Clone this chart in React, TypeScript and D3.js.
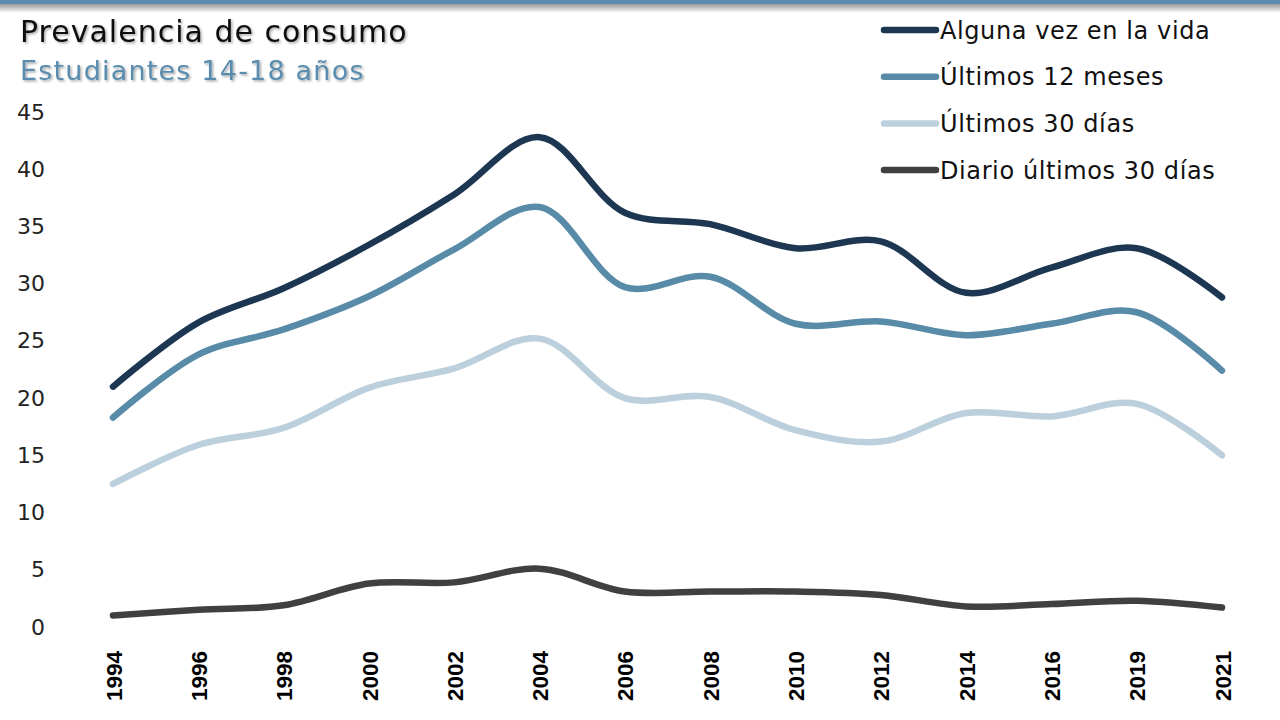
import React, { useEffect, useRef } from 'react';
import * as d3 from 'd3';

const years = ['1994', '1996', '1998', '2000', '2002', '2004', '2006', '2008', '2010', '2012', '2014', '2016', '2019', '2021'];
const algunaVez = [21.0, 26.6, 29.6, 33.4, 37.8, 42.8, 36.2, 35.2, 33.1, 33.7, 29.2, 31.4, 33.1, 28.8];
const ultimos12 = [18.3, 23.8, 26.0, 28.9, 33.0, 36.7, 29.7, 30.6, 26.5, 26.7, 25.5, 26.5, 27.5, 22.4];
const ultimos30 = [12.5, 15.9, 17.4, 20.9, 22.6, 25.2, 20.0, 20.1, 17.2, 16.2, 18.7, 18.4, 19.5, 15.0];
const diario = [1.0, 1.5, 1.9, 3.8, 3.9, 5.1, 3.1, 3.1, 3.1, 2.8, 1.8, 2.0, 2.3, 1.7];
const yTicks = [0, 5, 10, 15, 20, 25, 30, 35, 40, 45];

const series = [
  { name: 'Alguna vez en la vida', values: algunaVez, color: '#1d3752' },
  { name: 'Últimos 12 meses', values: ultimos12, color: '#588ba8' },
  { name: 'Últimos 30 días', values: ultimos30, color: '#bccfdd' },
  { name: 'Diario últimos 30 días', values: diario, color: '#404040' },
];

export default function App() {
  const svgRef = useRef<SVGSVGElement>(null);

  useEffect(() => {
    const width = 1280;
    const height = 720;
    const svg = d3.select(svgRef.current);
    svg.selectAll('*').remove();
    svg.attr('width', width).attr('height', height);

    const defs = svg.append('defs');
    const grad = defs.append('linearGradient').attr('id', 'topShade').attr('x1', 0).attr('x2', 0).attr('y1', 0).attr('y2', 1);
    grad.append('stop').attr('offset', '0%').attr('stop-color', '#9a9a9a');
    grad.append('stop').attr('offset', '100%').attr('stop-color', '#ffffff');
    const shadow = defs.append('filter').attr('id', 'txtShadow').attr('x', '-5%').attr('y', '-20%').attr('width', '110%').attr('height', '150%');
    shadow.append('feDropShadow').attr('dx', 1.5).attr('dy', 1.5).attr('stdDeviation', 1)
      .attr('flood-color', '#000').attr('flood-opacity', 0.35);

    svg.append('rect').attr('width', width).attr('height', height).attr('fill', '#fff');
    // top band
    svg.append('rect').attr('x', 0).attr('y', 4).attr('width', width).attr('height', 9).attr('fill', 'url(#topShade)');
    svg.append('rect').attr('x', 0).attr('y', 0).attr('width', width).attr('height', 4).attr('fill', '#5a8cae');

    // titles
    svg.append('text')
      .attr('x', 20).attr('y', 42)
      .attr('font-family', 'DejaVu Sans, sans-serif')
      .attr('font-size', 30)
      .attr('letter-spacing', 1)
      .attr('fill', '#111')
      .attr('filter', 'url(#txtShadow)')
      .text('Prevalencia de consumo');
    svg.append('text')
      .attr('x', 20).attr('y', 80)
      .attr('font-family', 'DejaVu Sans, sans-serif')
      .attr('font-size', 27)
      .attr('letter-spacing', 1.2)
      .attr('fill', '#5a8cae')
      .attr('filter', 'url(#txtShadow)')
      .text('Estudiantes 14-18 años');

    const x = d3.scalePoint<string>().domain(years).range([113, 1222]);
    const y = d3.scaleLinear().domain([0, 45]).range([627, 112]);

    // y axis labels
    const yAxis = svg.append('g').attr('transform', 'translate(45,0)')
      .call(d3.axisLeft(y).tickValues(yTicks).tickSize(0).tickPadding(0));
    yAxis.select('.domain').remove();
    yAxis.selectAll('text')
      .attr('font-family', 'DejaVu Sans, sans-serif')
      .attr('font-size', 22)
      .attr('fill', '#222');

    // x axis labels (vertical, reading upward)
    const xAxis = svg.append('g').attr('transform', 'translate(0,640)')
      .call(d3.axisBottom(x).tickSize(0).tickPadding(0));
    xAxis.select('.domain').remove();
    xAxis.selectAll('text')
      .attr('transform', 'rotate(-90)')
      .attr('text-anchor', 'start')
      .attr('x', -61)
      .attr('y', 0)
      .attr('dy', '0.36em')
      .attr('font-family', 'Liberation Sans, Arial, sans-serif')
      .attr('font-weight', 'bold')
      .attr('font-size', 22.5)
      .attr('fill', '#000');

    const line = d3.line<number>()
      .x((_, i) => x(years[i]) as number)
      .y(d => y(d))
      .curve(d3.curveCatmullRom.alpha(0.5));

    series.forEach(s => {
      svg.append('path')
        .datum(s.values)
        .attr('d', line)
        .attr('fill', 'none')
        .attr('stroke', s.color)
        .attr('stroke-width', 6.5)
        .attr('stroke-linecap', 'round')
        .attr('stroke-linejoin', 'round');
    });

    // legend
    const legend = svg.append('g');
    series.forEach((s, i) => {
      const ly = 30 + i * 46.7;
      legend.append('line')
        .attr('x1', 884).attr('x2', 936).attr('y1', ly).attr('y2', ly)
        .attr('stroke', s.color).attr('stroke-width', 6.5).attr('stroke-linecap', 'round');
      legend.append('text')
        .attr('x', 940).attr('y', ly).attr('dy', '0.36em')
        .attr('font-family', 'DejaVu Sans, sans-serif')
        .attr('font-size', 24)
        .attr('letter-spacing', 0.6)
        .attr('fill', '#111')
        .text(s.name);
    });
  }, []);

  return (
    <div style={{ position: 'absolute', left: 0, top: 0 }}>
      <svg ref={svgRef}></svg>
    </div>
  );
}
